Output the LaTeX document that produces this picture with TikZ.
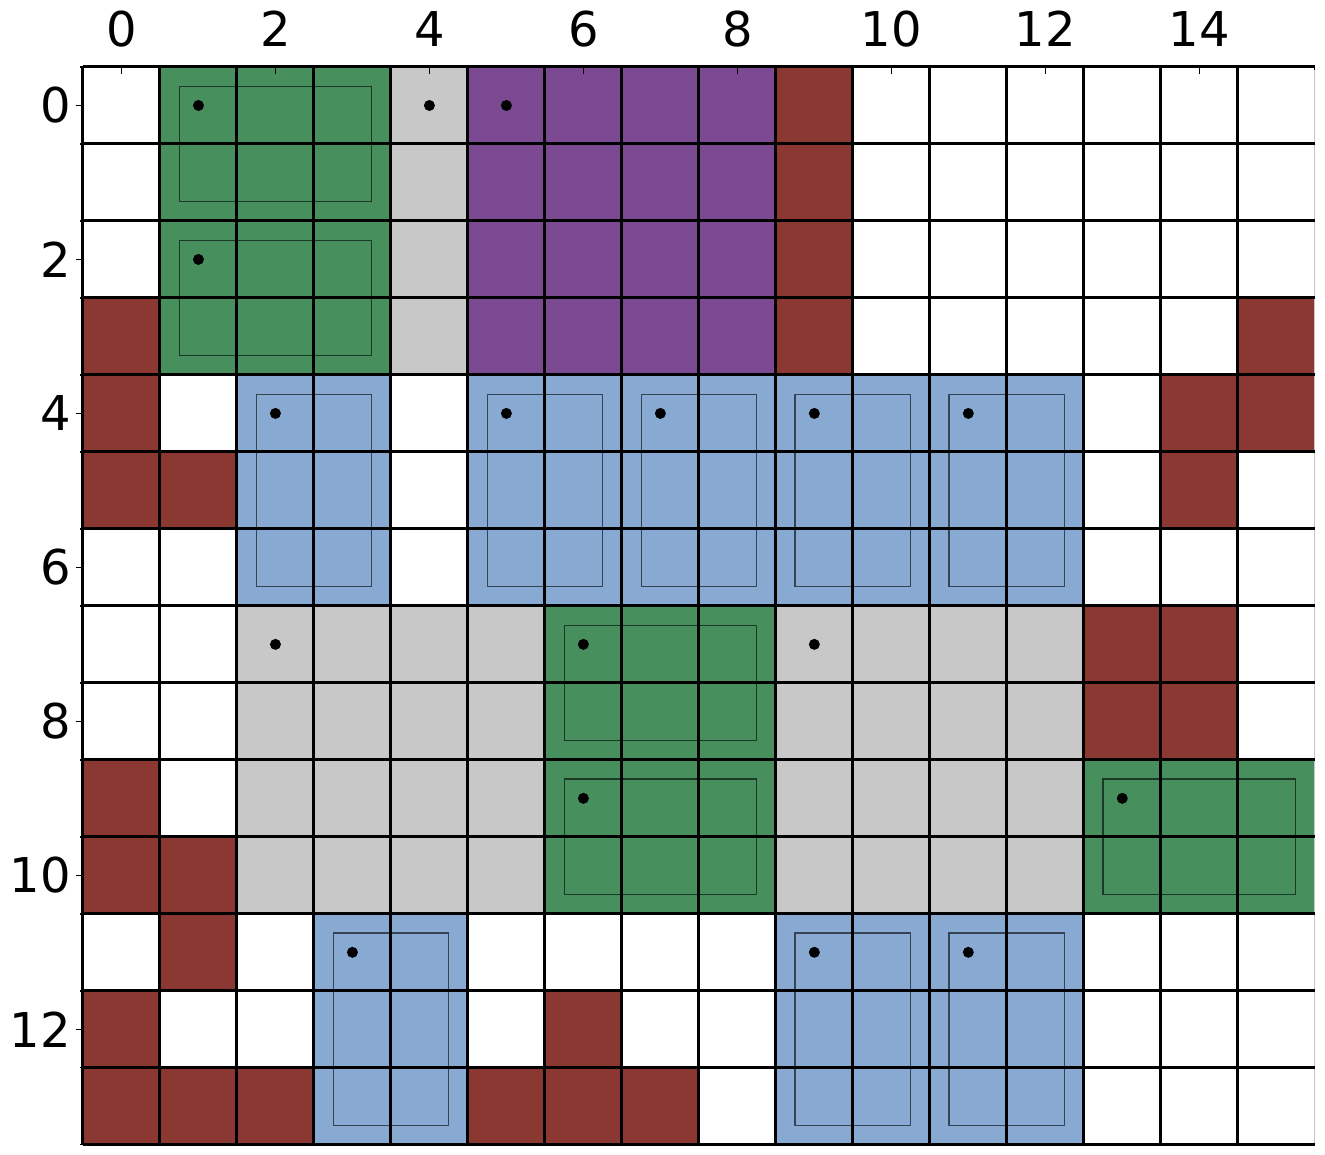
\documentclass[tikz,border=0pt]{standalone}
\usepackage{fontspec}
\setmainfont{DejaVu Sans}
\definecolor{cgreen}{RGB}{72,143,94}
\definecolor{cgray}{RGB}{200,200,200}
\definecolor{cpurple}{RGB}{123,72,146}
\definecolor{cred}{RGB}{139,56,51}
\definecolor{cblue}{RGB}{135,169,210}
\tikzset{
  cellbox/.style={draw=gray!45, line width=0.5pt},
  gridline/.style={draw=black, line width=1.7pt},
  innerbox/.style={draw=black, draw opacity=0.6, line width=0.7pt},
  dotmark/.style={fill=black},
  ticklab/.style={inner sep=0pt, font=\fontsize{27.3}{32}\selectfont},
  tickline/.style={line width=0.8pt}
}
\begin{document}
\begin{tikzpicture}[x=0.02cm, y=-0.02cm]
\useasboundingbox (0,0) rectangle (1325,1155);
\fill[white] (0,0) rectangle (1325,1155);
\begin{scope}[shift={(1.66cm,-1.34cm)}, x=1.54cm, y=-1.54cm]
  % white background cells
  \foreach \c in {0,...,15} \foreach \r in {0,...,13}
    \draw[cellbox, fill=white] (\c,\r) rectangle ++(1,1);
  % green
  \foreach \c in {1,2,3} \foreach \r in {0,1,2,3} \draw[cellbox, fill=cgreen] (\c,\r) rectangle ++(1,1);
  \foreach \c in {6,7,8} \foreach \r in {7,8,9,10} \draw[cellbox, fill=cgreen] (\c,\r) rectangle ++(1,1);
  \foreach \c in {13,14,15} \foreach \r in {9,10} \draw[cellbox, fill=cgreen] (\c,\r) rectangle ++(1,1);
  % gray
  \foreach \r in {0,1,2,3} \draw[cellbox, fill=cgray] (4,\r) rectangle ++(1,1);
  \foreach \c in {2,3,4,5,9,10,11,12} \foreach \r in {7,8,9,10} \draw[cellbox, fill=cgray] (\c,\r) rectangle ++(1,1);
  % purple
  \foreach \c in {5,6,7,8} \foreach \r in {0,1,2,3} \draw[cellbox, fill=cpurple] (\c,\r) rectangle ++(1,1);
  % blue
  \foreach \c in {2,3,5,6,7,8,9,10,11,12} \foreach \r in {4,5,6} \draw[cellbox, fill=cblue] (\c,\r) rectangle ++(1,1);
  \foreach \c in {3,4,9,10,11,12} \foreach \r in {11,12,13} \draw[cellbox, fill=cblue] (\c,\r) rectangle ++(1,1);
  % red
  \foreach \c/\r in {9/0,9/1,9/2,9/3,0/3,0/4,0/5,1/5,15/3,15/4,14/4,14/5,13/7,14/7,13/8,14/8,
                     0/9,0/10,1/10,1/11,0/12,6/12,0/13,1/13,2/13,5/13,6/13,7/13}
    \draw[cellbox, fill=cred] (\c,\r) rectangle ++(1,1);
  % grid lines
  \foreach \c in {0,...,15} \draw[gridline] (\c,0) -- (\c,14);
  \draw[cellbox] (16,0) -- (16,14);
  \foreach \r in {0,...,14} \draw[gridline] (0,\r) -- (16,\r);
  % inner boxes
  \foreach \a/\b/\cc/\d in {1/0/4/2, 1/2/4/4, 6/7/9/9, 6/9/9/11, 13/9/16/11,
      2/4/4/7, 5/4/7/7, 7/4/9/7, 9/4/11/7, 11/4/13/7, 3/11/5/14, 9/11/11/14, 11/11/13/14}
    \draw[innerbox] (\a+0.25,\b+0.25) rectangle (\cc-0.25,\d-0.25);
  % dots
  \foreach \c/\r in {1/0,4/0,5/0,1/2,2/4,5/4,7/4,9/4,11/4,2/7,6/7,9/7,6/9,13/9,3/11,9/11,11/11}
    \fill[dotmark] (\c+0.5,\r+0.5) circle (0.11cm);
  % ticks top
  \foreach \c in {0,...,16} \draw[tickline] (\c,0) -- ++(0,0.045);
  \foreach \c in {0,2,...,14} {
    \draw[tickline] (\c+0.5,0) -- ++(0,0.09);
    \node[ticklab, anchor=base] (tx\c) at ([yshift=0.4cm]\c+0.5,0) {\c};
  }
  % ticks left
  \foreach \r in {0,...,14} \draw[tickline] (0,\r) -- ++(-0.045,0);
  \foreach \r in {0,2,...,12} {
    \draw[tickline] (0,\r+0.5) -- ++(-0.09,0);
    \node[ticklab, anchor=east] (ty\r) at ([xshift=-0.24cm]0,\r+0.5) {\r};
  }
\end{scope}
\end{tikzpicture}
\end{document}
